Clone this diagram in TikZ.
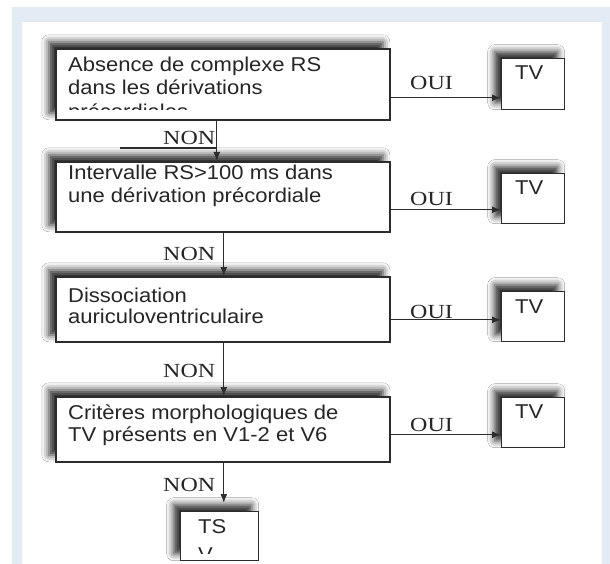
\documentclass[tikz,border=0pt]{standalone}
\usepackage{fontspec}
\setmainfont{Liberation Sans}
\newfontfamily\boxfont[FakeStretch=1.1]{Liberation Sans}
\newfontfamily\lblfont[FakeStretch=1.2]{Liberation Serif}
\usetikzlibrary{arrows.meta,shadows.blur}
\definecolor{frameblue}{HTML}{E3EBF4}
\definecolor{ink}{HTML}{2C2C2C}
\definecolor{txtc}{HTML}{262626}
\begin{document}
\begin{tikzpicture}[x=1pt,y=-1pt,
  shad/.style={blur shadow={shadow xshift=-7pt, shadow yshift=7pt, shadow blur radius=7pt, shadow opacity=85}},
  bigbox/.style={draw=ink, line width=1.6pt, fill=white, inner sep=0pt, anchor=north west, minimum width=334pt, shad},
  smallbox/.style={draw=ink, line width=1.4pt, fill=white, inner sep=0pt, anchor=north west, minimum width=63pt, shad},
  txt/.style={anchor=base west, inner sep=0pt, text=txtc, font=\boxfont\fontsize{20}{23}\selectfont},
  lbl/.style={anchor=base west, inner sep=0pt, text=txtc, font=\lblfont\fontsize{20}{22}\selectfont},
  arr/.style={draw=ink, line width=1.3pt, -{Latex[length=9pt,width=7pt]}}
]
\useasboundingbox (0,0) rectangle (610,564);
% frame
\fill[white] (0,0) rectangle (610,564);
\fill[frameblue] (12,7) rectangle (610,564);
\fill[white] (22,22) rectangle (602,564);

% main boxes
\node[bigbox, minimum height=71pt] (b1) at (55,48) {};
\node[bigbox, minimum height=70pt] (b2) at (55,161) {};
\node[bigbox, minimum height=65pt] (b3) at (55,276) {};
\node[bigbox, minimum height=65pt] (b4) at (55,396) {};

% TV boxes
\node[smallbox, minimum height=51pt] (tv1) at (501,58) {};
\node[smallbox, minimum height=50pt] (tv2) at (501,173) {};
\node[smallbox, minimum height=50pt] (tv3) at (501,291) {};
\node[smallbox, minimum height=50pt] (tv4) at (501,397) {};

% TS box
\node[smallbox, minimum width=78pt, minimum height=49pt] (ts) at (180,511) {};

% box texts
\node[txt] (t1a) at (68,72) {Absence de complexe RS};
\node[txt] (t1b) at (68,95) {dans les dérivations};
\begin{scope}
  \clip (57,50) rectangle (387,110);
  \node[txt] (t1c) at (68,119) {précordiales};
\end{scope}
\node[txt] (t2a) at (68,180) {Intervalle RS>100 ms dans};
\node[txt] (t2b) at (68,202) {une dérivation précordiale};
\node[txt] (t3a) at (68,302) {Dissociation};
\node[txt] (t3b) at (68,323) {auriculoventriculaire};
\node[txt] (t4a) at (68,419) {Critères morphologiques de};
\node[txt] (t4b) at (68,441) {TV présents en V1-2 et V6};

\node[txt] (v1) at (515,80) {TV};
\node[txt] (v2) at (515,195) {TV};
\node[txt] (v3) at (515,313) {TV};
\node[txt] (v4) at (515,418) {TV};

\node[txt] (tsa) at (198,533) {TS};
\begin{scope}
  \clip (182,513) rectangle (256,553);
  \node[txt] (tsb) at (198,561) {V};
\end{scope}

% NON arrows
\draw[arr] ([xshift=-6pt]b1.south) -- ([xshift=-6pt]b2.north);
\coordinate (s1) at (120,148);
\coordinate (s2) at (216,148);
\draw[draw=ink, line width=1.2pt] (s1) -- (s2);
\draw[arr] ([xshift=1pt]b2.south) -- ([xshift=1pt]b3.north);
\draw[arr] ([xshift=1pt]b3.south) -- ([xshift=1pt]b4.north);
\draw[arr, shorten >=8pt] ([xshift=1pt]b4.south) -- ([xshift=1pt]b4.south |- ts.north);

% OUI arrows
\draw[arr] ([yshift=-13.5pt]b1.east) -- ([yshift=-13.5pt]b1.east -| tv1.west);
\draw[arr] ([yshift=-13pt]b2.east) -- ([yshift=-13pt]b2.east -| tv2.west);
\draw[arr] ([yshift=-10.5pt]b3.east) -- ([yshift=-10.5pt]b3.east -| tv3.west);
\draw[arr] ([yshift=-5.5pt]b4.east) -- ([yshift=-5.5pt]b4.east -| tv4.west);

% labels
\node[lbl] (o1) at (410,90) {OUI};
\node[lbl] (o2) at (410,205) {OUI};
\node[lbl] (o3) at (410,318) {OUI};
\node[lbl] (o4) at (410,431) {OUI};
\node[lbl] (n1) at (163,145) {NON};
\node[lbl] (n2) at (163,260) {NON};
\node[lbl] (n3) at (163,377) {NON};
\node[lbl] (n4) at (163,491) {NON};
\end{tikzpicture}
\end{document}
